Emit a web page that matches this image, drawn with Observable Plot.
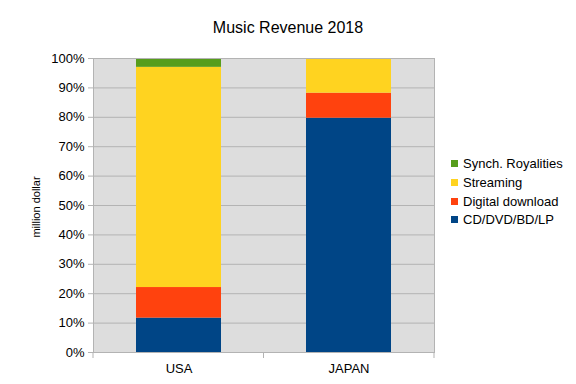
<!DOCTYPE html>
<html>
<head>
<meta charset="utf-8">
<script src="https://cdn.jsdelivr.net/npm/d3@7"></script>
<script src="https://cdn.jsdelivr.net/npm/@observablehq/plot@0.6"></script>
<style>
  body { margin: 0; background: #fff; font-family: "Liberation Sans", Arial, sans-serif; }
  #wrap { position: relative; width: 576px; height: 384px; }
  #title { position: absolute; left: 0; width: 576px; top: 20px; line-height: 16px; text-align: center; font-size: 16px; color: #000; }
  #ylabel { position: absolute; left: 35.5px; top: 207px; transform: translate(-50%, -50%) rotate(-90deg); font-size: 11px; line-height: 12px; white-space: nowrap; color: #000; }
  #legend { position: absolute; left: 451px; top: 154.5px; font-size: 13px; color: #000; }
  .row { height: 18.7px; display: flex; align-items: center; white-space: nowrap; }
  .sw { width: 7px; height: 7px; margin-right: 5px; flex: none; }
</style>
</head>
<body>
<div id="wrap">
  <div id="chart"></div>
  <div id="title">Music Revenue 2018</div>
  <div id="ylabel">million dollar</div>
  <div id="legend"></div>
</div>
<script>
const categories = ["USA", "JAPAN"];
const series = ["CD/DVD/BD/LP", "Digital download", "Streaming", "Synch. Royalities"];
const colors = ["#004586", "#ff420e", "#ffd320", "#579d1c"];
const usaValues = [11.7, 10.4, 74.9, 3.0];
const japanValues = [79.7, 8.5, 11.8, 0];
const yTicks = [0, 10, 20, 30, 40, 50, 60, 70, 80, 90, 100];

const valuesByCategory = { USA: usaValues, JAPAN: japanValues };
const data = [];
for (const c of categories) {
  series.forEach((s, i) => data.push({ country: c, series: s, value: valuesByCategory[c][i] }));
}

const bandEdges = (index, scales, values, dim) => {
  const g = d3.create("svg:g").attr("stroke", "#b3b3b3");
  const n = categories.length;
  const w = dim.width - dim.marginLeft - dim.marginRight;
  const yb = dim.height - dim.marginBottom;
  for (let i = 0; i <= n; i++) {
    const x = dim.marginLeft + (w * i) / n;
    g.append("line").attr("x1", x).attr("x2", x).attr("y1", yb).attr("y2", yb + 6);
  }
  return g.node();
};

const chart = Plot.plot({
  width: 576,
  height: 384,
  marginTop: 58,
  marginBottom: 32,
  marginLeft: 93,
  marginRight: 142,
  style: { fontFamily: "Liberation Sans, Arial, sans-serif", fontSize: "13px", color: "#000", background: "transparent" },
  x: { domain: categories, paddingInner: 0.5, paddingOuter: 0.25, label: null },
  y: { domain: [0, 100], label: null },
  color: { domain: series, range: colors },
  marks: [
    Plot.frame({ fill: "#dddddd", stroke: null }),
    Plot.gridY(yTicks, { stroke: "#b3b3b3", strokeOpacity: 1 }),
    Plot.barY(data, { x: "country", y: "value", fill: "series", order: series }),
    Plot.frame({ stroke: "#b3b3b3" }),
    Plot.axisY(yTicks, { tickSize: 5, tickPadding: 4, stroke: "#b3b3b3", tickFormat: d => d + "%", label: null, fontSize: 13, fill: "#000" }),
    Plot.axisX({ tickSize: 0, tickPadding: 11, label: null, fontSize: 13, fill: "#000" }),
    bandEdges
  ]
});
document.getElementById("chart").appendChild(chart);

const legend = document.getElementById("legend");
for (let i = series.length - 1; i >= 0; i--) {
  const row = document.createElement("div");
  row.className = "row";
  const sw = document.createElement("span");
  sw.className = "sw";
  sw.style.background = colors[i];
  const t = document.createElement("span");
  t.textContent = series[i];
  row.appendChild(sw);
  row.appendChild(t);
  legend.appendChild(row);
}
</script>
</body>
</html>
